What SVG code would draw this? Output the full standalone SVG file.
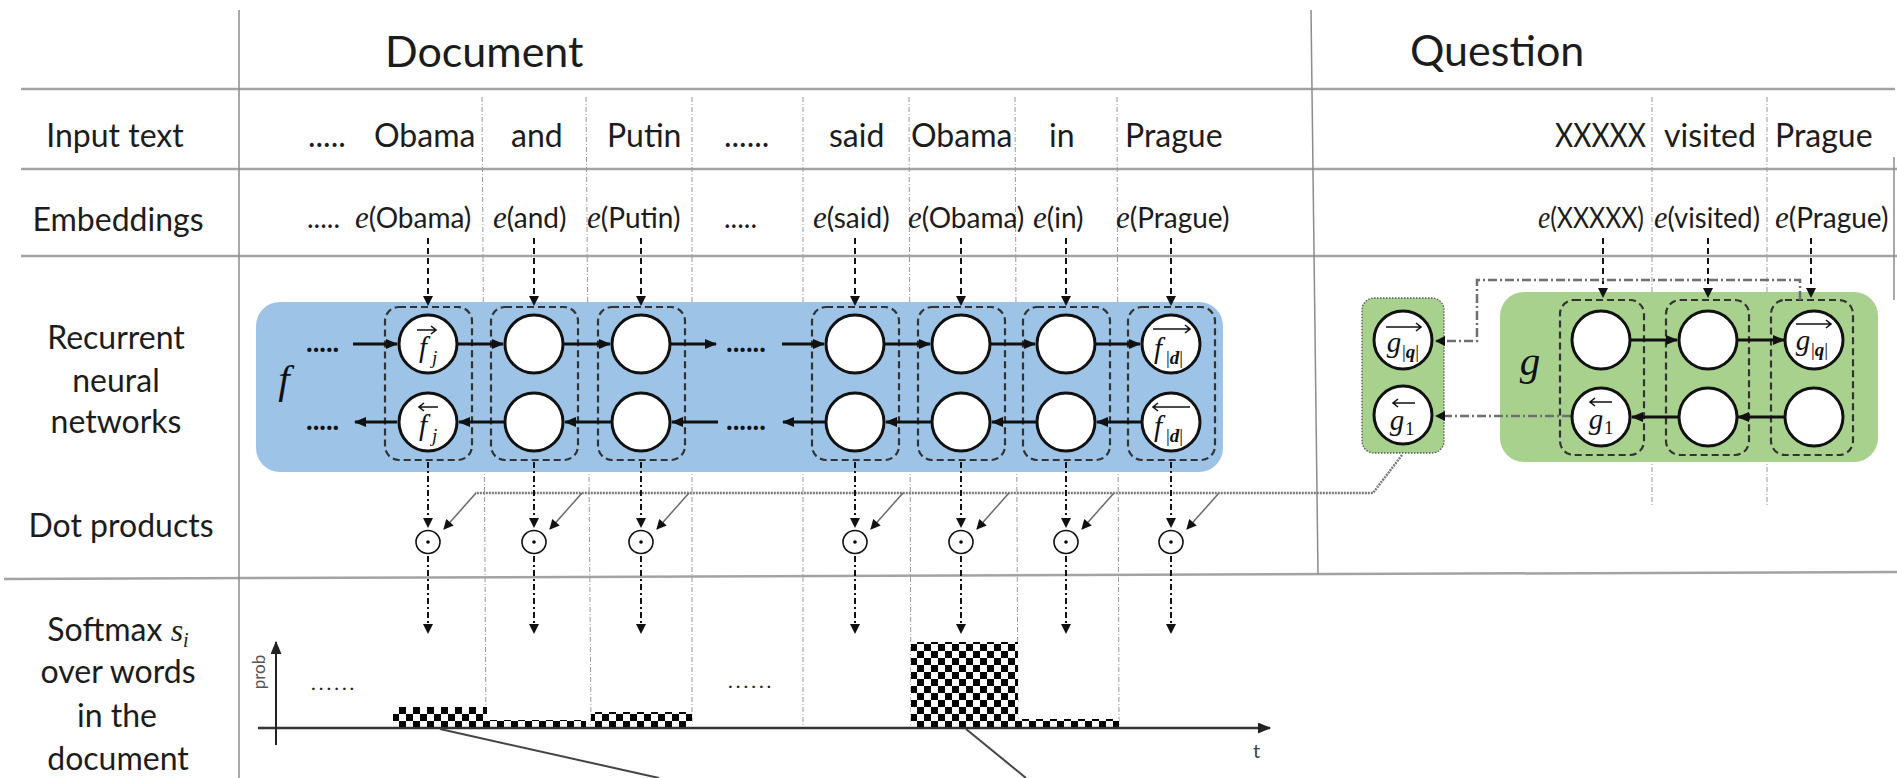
<svg xmlns="http://www.w3.org/2000/svg" width="1897" height="778" viewBox="0 0 1897 778">
  <style>
    .grid { stroke: #a3a3a3; stroke-width: 2.5; fill: none; }
    .vrule { stroke: #8c8c8c; stroke-width: 1.5; fill: none; }
    .sep { stroke: #9a9a9a; stroke-width: 1; stroke-dasharray: 5 2 1 2; fill: none; }
    .lbl { font-family: Lato, "Liberation Sans", sans-serif; font-size: 32px; fill: #1c1c1c; }
    .head { font-family: Lato, "Liberation Sans", sans-serif; font-size: 43px; fill: #1c1c1c; }
    .emb { font-family: Lato, "Liberation Sans", sans-serif; font-size: 28px; fill: #1c1c1c; }
    .ital { font-family: "Liberation Serif", "DejaVu Serif", serif; font-style: italic; }
    .mi { font-family: "Liberation Serif", "DejaVu Serif", serif; font-style: italic; font-size: 29px; fill: #111; }
    .big { font-family: "Liberation Serif", "DejaVu Serif", serif; font-style: italic; font-size: 41px; fill: #111; }
    .sub { font-family: "Liberation Serif", "DejaVu Serif", serif; font-size: 19px; fill: #111; }
    .dots { font-family: Lato, "Liberation Sans", sans-serif; font-size: 28px; font-weight: bold; fill: #111; }
    .fine { font-family: Lato, "Liberation Sans", sans-serif; font-size: 20px; fill: #222; }
    .node { fill: #ffffff; stroke: #111; stroke-width: 3; }
    .col { fill: none; stroke: #333; stroke-width: 2.2; stroke-dasharray: 7 4; }
    .rnn { stroke: #111; stroke-width: 3; fill: none; marker-end: url(#head); }
    .down { stroke: #111; stroke-width: 2; stroke-dasharray: 6 4; fill: none; marker-end: url(#hsmall); }
    .dashdot { stroke: #111; stroke-width: 2; stroke-dasharray: 6 3 2 3; fill: none; marker-end: url(#hsmall); }
    .qlink { stroke: #6f6f6f; stroke-width: 2.5; stroke-dasharray: 9 3 2 3; fill: none; marker-end: url(#hsmall); }
    .qvec { stroke: #7a7a7a; stroke-width: 2.5; stroke-dasharray: 2 1; fill: none; }
    .branch { stroke: #6a6a6a; stroke-width: 1.5; fill: none; marker-end: url(#hsmall); }
    .dot { fill: #fff; stroke: #111; stroke-width: 1.6; }
    .acc { stroke: #111; stroke-width: 1.6; fill: none; }
  </style>
  <defs>
    <marker id="head" viewBox="0 0 12 10" refX="11" refY="5" markerWidth="12" markerHeight="10" markerUnits="userSpaceOnUse" orient="auto">
      <path d="M0,0 L12,5 L0,10 z" fill="#111"/>
    </marker>
    <marker id="hsmall" viewBox="0 0 10 10" refX="9" refY="5" markerWidth="11" markerHeight="10" markerUnits="userSpaceOnUse" orient="auto">
      <path d="M0,0 L10,5 L0,10 z" fill="#111"/>
    </marker>
    <marker id="axhead" viewBox="0 0 12 10" refX="11" refY="5" markerWidth="14" markerHeight="11" markerUnits="userSpaceOnUse" orient="auto">
      <path d="M0,0 L12,5 L0,10 z" fill="#222"/>
    </marker>
    <pattern id="checker" width="14" height="14" patternUnits="userSpaceOnUse">
      <rect width="14" height="14" fill="#fff"/>
      <rect x="0" y="0" width="7" height="7" fill="#000"/>
      <rect x="7" y="7" width="7" height="7" fill="#000"/>
    </pattern>
  </defs>

  <!-- table rules -->
  <g id="grid">
    <line class="grid" x1="21" y1="89" x2="1895" y2="89"/>
    <line class="grid" x1="21" y1="169" x2="1897" y2="169"/>
    <line class="grid" x1="21" y1="256" x2="1897" y2="256"/>
    <line class="grid" x1="4" y1="579" x2="1897" y2="572"/>
    <line class="vrule" x1="239" y1="10" x2="239" y2="778"/>
    <line class="vrule" x1="1311" y1="10" x2="1318" y2="574"/>
    <line class="vrule" x1="1894" y1="157" x2="1894" y2="300"/>
  </g>

  <!-- row titles -->
  <g id="row-labels" class="lbl" text-anchor="middle">
    <text x="115" y="147">Input text</text>
    <text x="118" y="231">Embeddings</text>
    <text x="116" y="349">Recurrent</text>
    <text x="116" y="392">neural</text>
    <text x="116" y="433">networks</text>
    <text x="121" y="537">Dot products</text>
    <text x="118" y="641">Softmax <tspan class="ital">s</tspan><tspan class="ital" style="font-size:20px" dy="6">i</tspan></text>
    <text x="118" y="683">over words</text>
    <text x="117" y="727">in the</text>
    <text x="118" y="770">document</text>
  </g>

  <g id="headers" class="head">
    <text x="385" y="67">Document</text>
    <text x="1410" y="66">Question</text>
  </g>

  <!-- word column separators -->
  <g id="separators">
    <line class="sep" x1="482" y1="97" x2="486" y2="727"/>
    <line class="sep" x1="586" y1="97" x2="591" y2="727"/>
    <line class="sep" x1="692" y1="97" x2="692" y2="727"/>
    <line class="sep" x1="803" y1="97" x2="803" y2="727"/>
    <line class="sep" x1="909" y1="97" x2="911" y2="727"/>
    <line class="sep" x1="1015" y1="97" x2="1018" y2="727"/>
    <line class="sep" x1="1117" y1="97" x2="1119" y2="727"/>
    <line class="sep" x1="1652" y1="97" x2="1652" y2="507"/>
    <line class="sep" x1="1767" y1="97" x2="1767" y2="507"/>
  </g>

  <!-- input words -->
  <g id="input-words" class="lbl">
    <text x="308" y="147">.....</text>
    <text x="374" y="147">Obama</text>
    <text x="511" y="147">and</text>
    <text x="607" y="147">Putin</text>
    <text x="724" y="147">......</text>
    <text x="829" y="147">said</text>
    <text x="911" y="147">Obama</text>
    <text x="1049" y="147">in</text>
    <text x="1125" y="147">Prague</text>
    <text x="1555" y="147" textLength="91" lengthAdjust="spacingAndGlyphs">XXXXX</text>
    <text x="1664" y="147">visited</text>
    <text x="1775" y="147">Prague</text>
  </g>

  <!-- embeddings -->
  <g id="embeddings" class="emb">
    <text x="307" y="228">.....</text>
    <text x="355" y="228"><tspan class="ital" style="font-size:31px">e</tspan>(Obama)</text>
    <text x="493" y="228"><tspan class="ital" style="font-size:31px">e</tspan>(and)</text>
    <text x="587" y="228"><tspan class="ital" style="font-size:31px">e</tspan>(Putin)</text>
    <text x="724" y="228">.....</text>
    <text x="813" y="228"><tspan class="ital" style="font-size:31px">e</tspan>(said)</text>
    <text x="908" y="228"><tspan class="ital" style="font-size:31px">e</tspan>(Obama)</text>
    <text x="1033" y="228"><tspan class="ital" style="font-size:31px">e</tspan>(in)</text>
    <text x="1116" y="228"><tspan class="ital" style="font-size:31px">e</tspan>(Prague)</text>
    <text x="1538" y="228" textLength="106" lengthAdjust="spacingAndGlyphs"><tspan class="ital" style="font-size:31px">e</tspan>(XXXXX)</text>
    <text x="1654" y="228" textLength="106" lengthAdjust="spacingAndGlyphs"><tspan class="ital" style="font-size:31px">e</tspan>(visited)</text>
    <text x="1775" y="228"><tspan class="ital" style="font-size:31px">e</tspan>(Prague)</text>
  </g>

  <!-- document encoder f -->
  <g id="doc-rnn">
    <rect x="256" y="302" width="967" height="170" rx="24" fill="#9dc3e6"/>
    <text x="284" y="393" class="big" text-anchor="middle">f</text>
    <g id="doc-columns">
      <rect class="col" x="385" y="307" width="87" height="153" rx="14"/>
      <rect class="col" x="491" y="307" width="87" height="153" rx="14"/>
      <rect class="col" x="598" y="307" width="87" height="153" rx="14"/>
      <rect class="col" x="812" y="307" width="87" height="153" rx="14"/>
      <rect class="col" x="918" y="307" width="87" height="153" rx="14"/>
      <rect class="col" x="1023" y="307" width="87" height="153" rx="14"/>
      <rect class="col" x="1128" y="307" width="87" height="153" rx="14"/>
    </g>
  </g>

  <!-- question encoder g -->
  <g id="q-rnn">
    <rect x="1500" y="292" width="378" height="170" rx="24" fill="#a9d18e"/>
    <text x="1530" y="375" class="big" text-anchor="middle">g</text>
    <rect class="col" x="1560" y="300" width="84" height="155" rx="14"/>
    <rect class="col" x="1666" y="300" width="83" height="155" rx="14"/>
    <rect class="col" x="1771" y="300" width="82" height="155" rx="14"/>
  </g>

  <g id="q-summary">
    <rect x="1362" y="298" width="82" height="155" rx="12" fill="#a9d18e" stroke="#555" stroke-width="1.3" stroke-dasharray="1.5 1.5"/>
  </g>

  <!-- connectors -->
  <g id="connectors">
    <!-- embedding to recurrent cell -->
    <path class="down" d="M428,238 V305"/>
    <path class="down" d="M534,238 V305"/>
    <path class="down" d="M641,238 V305"/>
    <path class="down" d="M855,238 V305"/>
    <path class="down" d="M961,238 V305"/>
    <path class="down" d="M1066,238 V305"/>
    <path class="down" d="M1171,238 V305"/>
    <path class="down" d="M1603,238 V297"/>
    <path class="down" d="M1708,238 V297"/>
    <path class="down" d="M1811,238 V297"/>

    <!-- forward chain -->
    <path class="rnn" d="M353,344 H397"/>
    <path class="rnn" d="M458,344 H503"/>
    <path class="rnn" d="M564,344 H610"/>
    <path class="rnn" d="M671,344 H716"/>
    <path class="rnn" d="M782,344 H824"/>
    <path class="rnn" d="M885,344 H930"/>
    <path class="rnn" d="M991,344 H1035"/>
    <path class="rnn" d="M1096,344 H1140"/>
    <!-- backward chain -->
    <path class="rnn" d="M397,422 H355"/>
    <path class="rnn" d="M504,422 H459"/>
    <path class="rnn" d="M611,422 H565"/>
    <path class="rnn" d="M718,422 H672"/>
    <path class="rnn" d="M825,422 H783"/>
    <path class="rnn" d="M931,422 H886"/>
    <path class="rnn" d="M1036,422 H992"/>
    <path class="rnn" d="M1141,422 H1097"/>
    <!-- question chains -->
    <path class="rnn" d="M1631,340 H1677"/>
    <path class="rnn" d="M1737,340 H1784"/>
    <path class="rnn" d="M1785,417 H1738"/>
    <path class="rnn" d="M1678,417 H1632"/>

    <!-- final question states -->
    <path class="qlink" d="M1800,300 V280 H1477 V341 H1436"/>
    <path class="qlink" d="M1571,416 H1436"/>

    <!-- question vector fan-out -->
    <path class="qvec" d="M1402,455 L1373,493 H475"/>
    <path class="branch" d="M476,493 L444,529"/>
    <path class="branch" d="M582,493 L550,529"/>
    <path class="branch" d="M689,493 L657,529"/>
    <path class="branch" d="M903,493 L871,529"/>
    <path class="branch" d="M1009,493 L977,529"/>
    <path class="branch" d="M1114,493 L1082,529"/>
    <path class="branch" d="M1219,493 L1187,529"/>

    <!-- cell to dot product -->
    <path class="dashdot" d="M428,462 V527"/>
    <path class="dashdot" d="M534,462 V527"/>
    <path class="dashdot" d="M641,462 V527"/>
    <path class="dashdot" d="M855,462 V527"/>
    <path class="dashdot" d="M961,462 V527"/>
    <path class="dashdot" d="M1066,462 V527"/>
    <path class="dashdot" d="M1171,462 V527"/>

    <!-- dot product to softmax -->
    <path class="dashdot" d="M428,556 V633"/>
    <path class="dashdot" d="M534,556 V633"/>
    <path class="dashdot" d="M641,556 V633"/>
    <path class="dashdot" d="M855,556 V633"/>
    <path class="dashdot" d="M961,556 V633"/>
    <path class="dashdot" d="M1066,556 V633"/>
    <path class="dashdot" d="M1171,556 V633"/>
  </g>

  <!-- chain ellipses -->
  <g id="chain-dots" class="dots">
    <text x="306" y="352">.....</text>
    <text x="306" y="430">.....</text>
    <text x="726" y="352">......</text>
    <text x="726" y="430">......</text>
  </g>

  <!-- document cells -->
  <g id="doc-cells">
    <g id="f-fwd-j"><circle class="node" cx="428" cy="344" r="29"/>
      <path class="acc" d="M417,330 H436 M431,326 L436,330 L431,334"/>
      <text class="mi" x="423" y="357" text-anchor="middle">f</text><text class="sub ital" x="432" y="364">j</text></g>
    <g id="f-bwd-j"><circle class="node" cx="428" cy="422" r="29"/>
      <path class="acc" d="M419,407 H438 M424,403 L419,407 L424,411"/>
      <text class="mi" x="423" y="435" text-anchor="middle">f</text><text class="sub ital" x="432" y="442">j</text></g>
    <circle class="node" cx="534" cy="344" r="29"/>
    <circle class="node" cx="534" cy="422" r="29"/>
    <circle class="node" cx="641" cy="344" r="29"/>
    <circle class="node" cx="641" cy="422" r="29"/>
    <circle class="node" cx="855" cy="344" r="29"/>
    <circle class="node" cx="855" cy="422" r="29"/>
    <circle class="node" cx="961" cy="344" r="29"/>
    <circle class="node" cx="961" cy="422" r="29"/>
    <circle class="node" cx="1066" cy="344" r="29"/>
    <circle class="node" cx="1066" cy="422" r="29"/>
    <g id="f-fwd-d"><circle class="node" cx="1171" cy="344" r="29"/>
      <path class="acc" d="M1153,329 H1190 M1185,325 L1190,329 L1185,333"/>
      <text class="mi" x="1158" y="358" text-anchor="middle">f</text>
      <text class="sub" x="1166" y="364">|<tspan font-weight="bold" font-style="italic">d</tspan>|</text></g>
    <g id="f-bwd-d"><circle class="node" cx="1171" cy="422" r="29"/>
      <path class="acc" d="M1153,407 H1190 M1158,403 L1153,407 L1158,411"/>
      <text class="mi" x="1158" y="436" text-anchor="middle">f</text>
      <text class="sub" x="1166" y="442">|<tspan font-weight="bold" font-style="italic">d</tspan>|</text></g>
  </g>

  <!-- question cells -->
  <g id="q-cells">
    <circle class="node" cx="1601" cy="340" r="29"/>
    <g id="g-bwd-1"><circle class="node" cx="1601" cy="417" r="29"/>
      <path class="acc" d="M1590,402 H1612 M1595,398 L1590,402 L1595,406"/>
      <text class="mi" x="1596" y="429" text-anchor="middle">g</text><text class="sub" x="1604" y="434">1</text></g>
    <circle class="node" cx="1708" cy="340" r="29"/>
    <circle class="node" cx="1708" cy="417" r="29"/>
    <g id="g-fwd-q"><circle class="node" cx="1814" cy="340" r="29"/>
      <path class="acc" d="M1796,324 H1831 M1826,320 L1831,324 L1826,328"/>
      <text class="mi" x="1803" y="350" text-anchor="middle">g</text>
      <text class="sub" x="1811" y="356">|<tspan font-weight="bold" font-style="italic">q</tspan>|</text></g>
    <circle class="node" cx="1814" cy="417" r="29"/>
  </g>

  <g id="q-summary-cells">
    <g id="s-fwd-q"><circle class="node" cx="1403" cy="340" r="29"/>
      <path class="acc" d="M1386,327 H1421 M1416,323 L1421,327 L1416,331"/>
      <text class="mi" x="1394" y="352" text-anchor="middle">g</text>
      <text class="sub" x="1402" y="358">|<tspan font-weight="bold" font-style="italic">q</tspan>|</text></g>
    <g id="s-bwd-1"><circle class="node" cx="1403" cy="415" r="29"/>
      <path class="acc" d="M1393,403 H1415 M1398,399 L1393,403 L1398,407"/>
      <text class="mi" x="1397" y="430" text-anchor="middle">g</text><text class="sub" x="1405" y="435">1</text></g>
  </g>

  <!-- dot products -->
  <g id="dot-products">
    <g><ellipse class="dot" cx="428" cy="542" rx="12" ry="11.5"/><circle cx="428" cy="542" r="1.8"/></g>
    <g><ellipse class="dot" cx="534" cy="542" rx="12" ry="11.5"/><circle cx="534" cy="542" r="1.8"/></g>
    <g><ellipse class="dot" cx="641" cy="542" rx="12" ry="11.5"/><circle cx="641" cy="542" r="1.8"/></g>
    <g><ellipse class="dot" cx="855" cy="542" rx="12" ry="11.5"/><circle cx="855" cy="542" r="1.8"/></g>
    <g><ellipse class="dot" cx="961" cy="542" rx="12" ry="11.5"/><circle cx="961" cy="542" r="1.8"/></g>
    <g><ellipse class="dot" cx="1066" cy="542" rx="12" ry="11.5"/><circle cx="1066" cy="542" r="1.8"/></g>
    <g><ellipse class="dot" cx="1171" cy="542" rx="12" ry="11.5"/><circle cx="1171" cy="542" r="1.8"/></g>
  </g>

  <!-- softmax chart -->
  <g id="softmax-chart">
    <rect x="393" y="707" width="94" height="21" fill="url(#checker)"/>
    <rect x="487" y="720" width="99" height="8" fill="url(#checker)"/>
    <rect x="591" y="712" width="101" height="16" fill="url(#checker)"/>
    <rect x="911" y="642" width="107" height="86" fill="url(#checker)"/>
    <rect x="1018" y="719" width="101" height="9" fill="url(#checker)"/>
    <line x1="258" y1="728" x2="1270" y2="728" stroke="#333" stroke-width="2.5" marker-end="url(#axhead)"/>
    <line x1="276" y1="745" x2="276" y2="642" stroke="#222" stroke-width="2" marker-end="url(#axhead)"/>
    <text x="265" y="672" transform="rotate(-90 265 672)" text-anchor="middle" class="fine" style="font-size:17px;fill:#555">prob</text>
    <text x="1253" y="758" class="fine" style="fill:#444">t</text>
    <text x="311" y="690" class="fine" style="letter-spacing:3px">......</text>
    <text x="728" y="688" class="fine" style="letter-spacing:3px">......</text>
    <line x1="440" y1="729" x2="659" y2="778" stroke="#444" stroke-width="2"/>
    <line x1="966" y1="729" x2="1026" y2="778" stroke="#444" stroke-width="2"/>
  </g>
</svg>
